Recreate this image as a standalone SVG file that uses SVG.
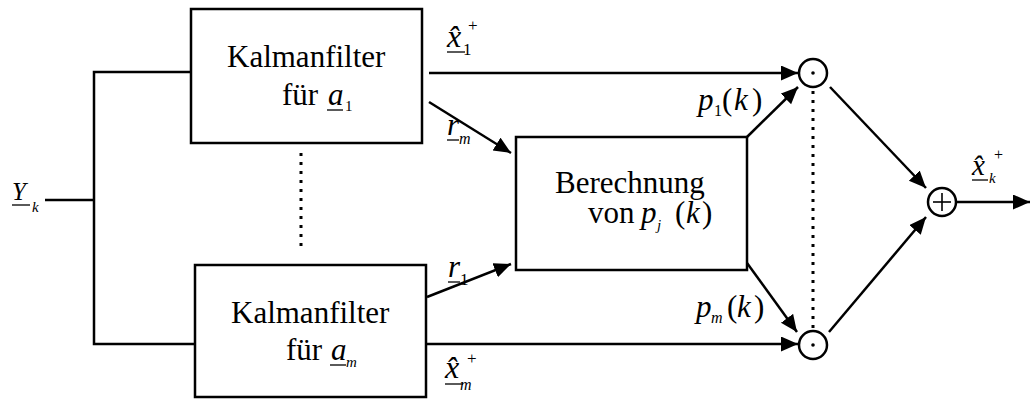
<svg xmlns="http://www.w3.org/2000/svg" width="1030" height="399" viewBox="0 0 1030 399" font-family="'Liberation Serif', 'Times New Roman', Times, 'DejaVu Serif', serif">
  <style>
    .box { fill: #fff; stroke: #000; stroke-width: 2.5; }
    .wire { fill: none; stroke: #000; stroke-width: 2.5; }
    .arrow { fill: none; stroke: #000; stroke-width: 2.5; marker-end: url(#head); }
    .dots { fill: none; stroke: #000; stroke-width: 3; stroke-dasharray: 3 6; }
    .op { fill: #fff; stroke: #000; stroke-width: 2.5; }
    .thin { stroke: #000; stroke-width: 1.6; }
    .ul { stroke: #000; stroke-width: 1.3; }
    text { font-family: 'Liberation Serif', 'Times New Roman', Times, 'DejaVu Serif', serif; fill: #000; }
    .lbl { font-size: 31px; }
    .it { font-style: italic; }
  </style>
  <defs>
    <marker id="head" markerUnits="userSpaceOnUse" markerWidth="18" markerHeight="16" refX="17" refY="7.5" orient="auto">
      <path d="M0,0 L17,7.5 L0,15 Z" fill="#000"/>
    </marker>
  </defs>

  <!-- connectors -->
  <g id="connectors">
    <polyline class="wire" points="45,200 94,200"/>
    <polyline class="wire" points="191,72 94,72 94,344 195,344"/>
    <line class="dots" x1="301" y1="153" x2="301" y2="250"/>
    <line class="arrow" x1="429" y1="73" x2="798" y2="73"/>
    <line class="arrow" x1="427" y1="344" x2="798" y2="344"/>
    <line class="arrow" x1="429" y1="102" x2="511" y2="153"/>
    <line class="arrow" x1="427" y1="297" x2="511" y2="264"/>
    <line class="arrow" x1="747" y1="137" x2="798" y2="87"/>
    <line class="arrow" x1="747" y1="263" x2="797" y2="332"/>
    <line class="dots" x1="813" y1="91" x2="813" y2="330"/>
    <line class="arrow" x1="830" y1="87" x2="926" y2="188"/>
    <line class="arrow" x1="829" y1="332" x2="926" y2="217"/>
    <line class="arrow" x1="957" y1="202" x2="1030" y2="202"/>
  </g>

  <!-- input signal -->
  <g id="input">
    <text class="it" x="12" y="200" font-size="25">Y</text>
    <line class="ul" x1="12" y1="205" x2="30" y2="205"/>
    <text class="it" x="32" y="212" font-size="15">k</text>
  </g>

  <!-- Kalman filter for a_1 -->
  <g id="kf1">
    <rect class="box" x="191" y="9" width="231" height="134"/>
    <text class="lbl" x="227" y="67">Kalmanfilter</text>
    <text class="lbl" x="282" y="105">für</text>
    <text class="lbl it" x="328" y="105">a</text>
    <line class="ul" x1="327" y1="110" x2="343" y2="110"/>
    <text x="345" y="111" font-size="15">1</text>
  </g>

  <!-- Kalman filter for a_m -->
  <g id="kf2">
    <rect class="box" x="195" y="265" width="231" height="132"/>
    <text class="lbl" x="231" y="323">Kalmanfilter</text>
    <text class="lbl" x="286" y="360">für</text>
    <text class="lbl it" x="331" y="360">a</text>
    <line class="ul" x1="330" y1="365" x2="346" y2="365"/>
    <text class="it" x="346" y="367" font-size="15">m</text>
  </g>

  <!-- probability computation -->
  <g id="calc">
    <rect class="box" x="516" y="137" width="231" height="133"/>
    <text class="lbl" x="555" y="193">Berechnung</text>
    <text class="lbl" x="588" y="223">von</text>
    <text class="lbl it" x="641" y="223">p</text>
    <text class="it" x="657" y="230" font-size="15">j</text>
    <text class="lbl" x="675" y="223">(</text>
    <text class="lbl it" x="686" y="223">k</text>
    <text class="lbl" x="702" y="223">)</text>
  </g>

  <!-- multiplier nodes -->
  <g id="mult1">
    <circle class="op" cx="813" cy="73" r="14"/>
    <circle cx="813" cy="73" r="1.8" fill="#000"/>
  </g>
  <g id="mult2">
    <circle class="op" cx="813" cy="345" r="14"/>
    <circle cx="813" cy="345" r="1.8" fill="#000"/>
  </g>

  <!-- summation node -->
  <g id="sum">
    <circle class="op" cx="942" cy="202" r="14"/>
    <line class="thin" x1="933" y1="202" x2="951" y2="202"/>
    <line class="thin" x1="942" y1="193" x2="942" y2="211"/>
  </g>

  <!-- signal labels -->
  <g id="labels">
    <!-- estimate of filter 1 -->
    <text class="it" x="447" y="47" font-size="32">x&#x302;</text>
    <line class="ul" x1="447" y1="52" x2="465" y2="52"/>
    <text x="463" y="55" font-size="17">1</text>
    <text x="468" y="31" font-size="17">+</text>

    <!-- residual m -->
    <text class="it" x="447" y="135" font-size="31">r</text>
    <line class="ul" x1="447" y1="140" x2="459" y2="140"/>
    <text class="it" x="459" y="144" font-size="16">m</text>

    <!-- residual 1 -->
    <text class="it" x="448" y="277" font-size="31">r</text>
    <line class="ul" x1="448" y1="282" x2="460" y2="282"/>
    <text x="460" y="285" font-size="17">1</text>

    <!-- estimate of filter m -->
    <text class="it" x="445" y="378" font-size="32">x&#x302;</text>
    <line class="ul" x1="445" y1="384" x2="463" y2="384"/>
    <text class="it" x="460" y="390" font-size="16">m</text>
    <text x="467" y="364" font-size="17">+</text>

    <!-- weight 1 -->
    <text class="lbl it" x="698" y="110">p</text>
    <text x="714" y="116" font-size="16">1</text>
    <text class="lbl" x="722" y="110">(</text>
    <text class="lbl it" x="734" y="110">k</text>
    <text class="lbl" x="752" y="110">)</text>

    <!-- weight m -->
    <text class="lbl it" x="696" y="317">p</text>
    <text class="it" x="711" y="323" font-size="16">m</text>
    <text class="lbl" x="727" y="317">(</text>
    <text class="lbl it" x="737" y="317">k</text>
    <text class="lbl" x="754" y="317">)</text>

    <!-- combined estimate -->
    <text class="it" x="972" y="175" font-size="29">x&#x302;</text>
    <line class="ul" x1="972" y1="180" x2="988" y2="180"/>
    <text class="it" x="989" y="183" font-size="15">k</text>
    <text x="994" y="160" font-size="16">+</text>
  </g>
</svg>
